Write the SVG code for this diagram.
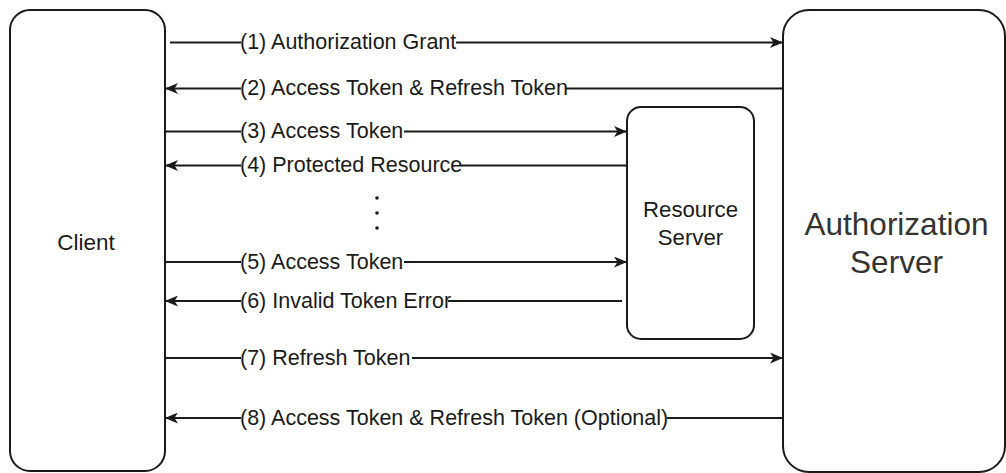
<svg xmlns="http://www.w3.org/2000/svg" width="1006" height="473" viewBox="0 0 1006 473">
  <style>
    .box { fill: #ffffff; stroke: #1a1a1a; stroke-width: 2; }
    .edge { stroke: #1a1a1a; stroke-width: 2; fill: none; }
    .lbl { font-family: "Liberation Sans", Arial, sans-serif; font-size: 21.5px; fill: #1a1a1a; }
    .lblbg { fill: #ffffff; }
    .node-text { font-family: "Liberation Sans", Arial, sans-serif; fill: #1a1a1a; text-anchor: middle; }
    .as-text { fill: #333333; }
  </style>
  <defs>
    <marker id="arrow" viewBox="0 0 13 11" refX="12" refY="5.5" markerWidth="13" markerHeight="11" markerUnits="userSpaceOnUse" orient="auto">
      <path d="M0,0 L13,5.5 L0,11 L3.5,5.5 Z" fill="#1a1a1a"/>
    </marker>
  </defs>

  <rect width="1006" height="473" fill="#ffffff"/>

  <!-- Client -->
  <g id="client">
    <rect class="box" x="10" y="10" width="155" height="461" rx="20" ry="20"/>
    <text class="node-text" x="86" y="250" font-size="22.5">Client</text>
  </g>

  <!-- Authorization Server -->
  <g id="authorization-server">
    <rect class="box" x="783" y="10" width="222" height="462" rx="26" ry="26"/>
    <text class="node-text as-text" x="896.5" y="235" font-size="31.5">Authorization</text>
    <text class="node-text as-text" x="896.5" y="273" font-size="31.5">Server</text>
  </g>

  <!-- Resource Server -->
  <g id="resource-server">
    <rect class="box" x="627" y="107" width="127" height="232" rx="14" ry="14"/>
    <text class="node-text" x="690.5" y="217" font-size="22.2">Resource</text>
    <text class="node-text" x="690.5" y="245" font-size="22.2">Server</text>
  </g>

  <!-- Connectors -->
  <g id="connectors">
    <line class="edge" x1="170" y1="42.5" x2="782" y2="42.5" marker-end="url(#arrow)"/>
    <line class="edge" x1="783" y1="88.5" x2="166" y2="88.5" marker-end="url(#arrow)"/>
    <line class="edge" x1="165" y1="131.5" x2="626" y2="131.5" marker-end="url(#arrow)"/>
    <line class="edge" x1="627" y1="165.5" x2="166" y2="165.5" marker-end="url(#arrow)"/>
    <line class="edge" x1="165" y1="262" x2="626" y2="262" marker-end="url(#arrow)"/>
    <line class="edge" x1="622" y1="301" x2="166" y2="301" marker-end="url(#arrow)"/>
    <line class="edge" x1="165" y1="358" x2="782" y2="358" marker-end="url(#arrow)"/>
    <line class="edge" x1="783" y1="418" x2="166" y2="418" marker-end="url(#arrow)"/>

    <!-- edge labels -->
    <rect class="lblbg" x="241" y="30" width="215" height="24"/>
    <text class="lbl" x="240" y="49">(1) Authorization Grant</text>
    <rect class="lblbg" x="241" y="76" width="325" height="24"/>
    <text class="lbl" x="240" y="95">(2) Access Token &amp; Refresh Token</text>
    <rect class="lblbg" x="241" y="119" width="163" height="24"/>
    <text class="lbl" x="240" y="138">(3) Access Token</text>
    <rect class="lblbg" x="241" y="153" width="220" height="24"/>
    <text class="lbl" x="240" y="172">(4) Protected Resource</text>
    <rect class="lblbg" x="241" y="250" width="163" height="24"/>
    <text class="lbl" x="240" y="269">(5) Access Token</text>
    <rect class="lblbg" x="241" y="289" width="207" height="24"/>
    <text class="lbl" x="240" y="308">(6) Invalid Token Error</text>
    <rect class="lblbg" x="241" y="346" width="171" height="24"/>
    <text class="lbl" x="240" y="365">(7) Refresh Token</text>
    <rect class="lblbg" x="241" y="406" width="426" height="24"/>
    <text class="lbl" x="240" y="425">(8) Access Token &amp; Refresh Token (Optional)</text>

    <!-- vertical ellipsis -->
    <circle cx="377" cy="198" r="1.8" fill="#1a1a1a"/>
    <circle cx="377" cy="213" r="1.8" fill="#1a1a1a"/>
    <circle cx="377" cy="228" r="1.8" fill="#1a1a1a"/>
  </g>
</svg>
